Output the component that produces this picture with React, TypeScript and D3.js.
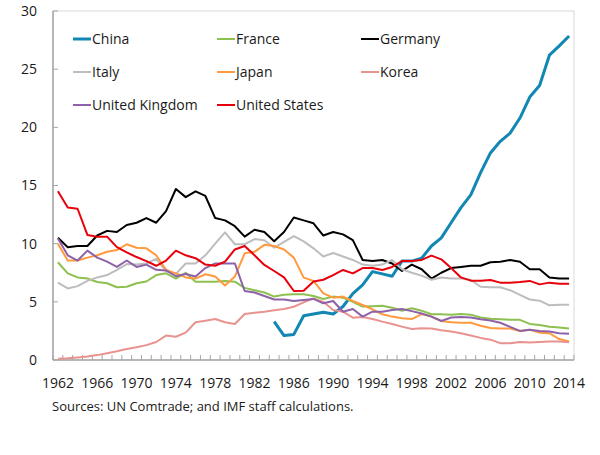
import React from "react";
import * as d3 from "d3";

const years: number[] = d3.range(1962, 2015);
const tickYears: number[] = [1962, 1966, 1970, 1974, 1978, 1982, 1986, 1990, 1994, 1998, 2002, 2006, 2010, 2014];
const yTicks: number[] = [0, 5, 10, 15, 20, 25, 30];

const china: (number | null)[] = [
  null, null, null, null, null, null, null, null, null, null, null, null, null, null, null, null, null, null, null, null, null, null,
  3.3, 2.1, 2.2, 3.8, 3.95, 4.1, 3.95, 4.6, 5.7, 6.45, 7.6, 7.4, 7.2, 8.5, 8.5, 8.75, 9.8, 10.5, 11.8, 13.1, 14.2, 16.1, 17.8, 18.8, 19.5, 20.8, 22.6, 23.6, 26.2, 27.0, 27.85,
];
const france: number[] = [
  8.4, 7.45, 7.1, 7.0, 6.7, 6.6, 6.25, 6.3, 6.6, 6.75, 7.3, 7.45, 7.0, 7.5, 6.73, 6.73, 6.73, 6.8, 6.73, 6.2, 6.0, 5.8, 5.45, 5.6, 5.65, 5.65, 5.5,
  5.24, 5.45, 5.36, 5.0, 4.6, 4.63, 4.67, 4.5, 4.24, 4.44, 4.24, 3.93, 3.93, 3.9, 3.95, 3.9, 3.65, 3.55, 3.5, 3.45, 3.45, 3.1, 3.0, 2.85, 2.8, 2.7,
];
const germany: number[] = [
  10.5, 9.7, 9.8, 9.8, 10.7, 11.1, 11.0, 11.6, 11.8, 12.2, 11.8, 12.8, 14.7, 14.0, 14.5, 14.1, 12.2, 12.0, 11.5, 10.6, 11.2, 11.0, 10.2, 11.0, 12.25, 12.0, 11.75,
  10.7, 11.0, 10.8, 10.3, 8.6, 8.5, 8.6, 8.3, 7.65, 8.2, 7.8, 7.0, 7.5, 7.9, 8.0, 8.1, 8.1, 8.4, 8.45, 8.6, 8.45, 7.8, 7.8, 7.1, 7.0, 7.0,
];
const italy: number[] = [
  6.65, 6.15, 6.35, 6.8, 7.1, 7.3, 7.75, 8.25, 8.2, 8.3, 8.7, 7.65, 7.4, 8.3, 8.3, 9.0, 10.0, 10.97, 9.95, 9.95, 10.4, 10.3, 9.65, 10.15, 10.65, 10.2, 9.6,
  8.9, 9.2, 8.9, 8.6, 8.2, 8.1, 8.2, 8.6, 7.8, 7.5, 7.25, 6.9, 7.1, 7.0, 7.0, 6.9, 6.3, 6.25, 6.25, 6.0, 5.6, 5.2, 5.1, 4.7, 4.75, 4.75,
];
const japan: number[] = [
  10.0, 8.55, 8.55, 8.8, 9.0, 9.3, 9.45, 9.95, 9.65, 9.6, 9.0, 7.75, 7.45, 7.1, 7.0, 7.37, 7.17, 6.4, 7.17, 9.17, 9.3, 9.9, 9.8, 9.5, 8.8, 7.08, 6.8,
  5.73, 5.36, 5.45, 5.07, 4.73, 4.36, 3.93, 3.73, 3.58, 3.52, 3.95, 3.73, 3.35, 3.25, 3.2, 3.2, 2.95, 2.75, 2.7, 2.7, 2.5, 2.6, 2.35, 2.3, 1.8, 1.6,
];
const korea: number[] = [
  0.1, 0.15, 0.22, 0.3, 0.42, 0.58, 0.75, 0.95, 1.1, 1.28, 1.55, 2.1, 2.0, 2.35, 3.24, 3.38, 3.53, 3.24, 3.1, 3.96, 4.07, 4.15, 4.27, 4.38, 4.58, 4.96, 5.3,
  5.0, 4.3, 4.15, 3.64, 3.7, 3.53, 3.3, 3.1, 2.87, 2.67, 2.72, 2.7, 2.55, 2.45, 2.3, 2.1, 1.9, 1.75, 1.45, 1.43, 1.55, 1.5, 1.55, 1.58, 1.58, 1.52,
];
const uk: number[] = [
  10.45, 9.0, 8.55, 9.4, 8.8, 8.45, 8.0, 8.55, 8.0, 8.2, 7.75, 7.7, 7.2, 7.4, 7.17, 7.9, 8.3, 8.3, 8.3, 5.93, 5.8, 5.5, 5.2, 5.2, 5.07, 5.16, 5.25,
  4.87, 5.07, 4.15, 4.38, 3.73, 4.15, 4.15, 4.3, 4.38, 4.2, 4.0, 3.73, 3.35, 3.65, 3.7, 3.65, 3.5, 3.4, 3.2, 2.85, 2.5, 2.6, 2.5, 2.45, 2.3, 2.25,
];
const us: number[] = [
  14.5, 13.1, 13.0, 10.75, 10.6, 10.6, 9.7, 9.25, 8.85, 8.5, 8.1, 8.55, 9.4, 9.0, 8.75, 8.2, 8.1, 8.45, 9.5, 9.8, 9.0, 8.17, 7.65, 7.1, 5.93, 5.95, 6.75,
  6.9, 7.3, 7.74, 7.45, 7.9, 7.9, 7.74, 8.0, 8.5, 8.5, 8.6, 8.97, 8.65, 7.9, 7.1, 6.82, 6.82, 6.88, 6.65, 6.65, 6.7, 6.8, 6.5, 6.65, 6.55, 6.55,
];

const seriesNames: string[] = ["China", "France", "Germany", "Italy", "Japan", "Korea", "United Kingdom", "United States"];
const seriesValues: (number | null)[][] = [china, france, germany, italy, japan, korea, uk, us];
const seriesColors: string[] = ["#1287B4", "#8DC04F", "#000000", "#BDBDBD", "#FF9A3E", "#E8938F", "#8E62A8", "#E8000B"];
const seriesWidths: number[] = [3, 2, 2, 2, 2, 2, 2, 2];

const W = 600;
const H = 455;
const left = 53;
const right = 574;
const top = 11;
const bottom = 360;
const font = "'Open Sans', 'Noto Sans', sans-serif";

export default function App() {
  const x = d3.scaleBand<number>().domain(years).range([left, right]).padding(0);
  const cx = (yr: number) => (x(yr) as number) + x.bandwidth() / 2;
  const y = d3.scaleLinear().domain([0, 30]).range([bottom, top]);

  const line = d3
    .line<number | null>()
    .defined((d) => d != null)
    .x((_, i) => cx(years[i]))
    .y((d) => y(d as number));

  const legendCols = [73, 217, 361];
  const legendRows = [39, 72, 105];

  return (
    <svg width={W} height={H} style={{ position: "absolute", left: 0, top: 0, background: "#fff" }} fontFamily={font}>
      <rect x={0} y={0} width={W} height={H} fill="#fff" />
      {/* plot border */}
      <rect x={left} y={top} width={right - left} height={bottom - top} fill="none" stroke="#D9D9D9" strokeWidth={1} />
      {/* y axis */}
      <line x1={left} x2={left} y1={top} y2={bottom} stroke="#A6A6A6" strokeWidth={1.5} />
      {yTicks.map((t) => (
        <g key={t}>
          <line x1={left} x2={left + 5} y1={y(t)} y2={y(t)} stroke="#A6A6A6" strokeWidth={1} />
          <text x={37} y={y(t)} dy="0.35em" textAnchor="end" fontSize={14} fill="#1a1a1a">
            {t}
          </text>
        </g>
      ))}
      {/* x axis */}
      <line x1={left} x2={right} y1={bottom} y2={bottom} stroke="#A6A6A6" strokeWidth={1.5} />
      {years.concat([2015]).map((yr, i) => {
        const xx = left + i * x.bandwidth();
        return <line key={yr} x1={xx} x2={xx} y1={bottom - 5} y2={bottom} stroke="#A6A6A6" strokeWidth={1} />;
      })}
      {tickYears.map((yr) => (
        <text key={yr} x={cx(yr)} y={383} dy="0.35em" textAnchor="middle" fontSize={14} fill="#1a1a1a">
          {yr}
        </text>
      ))}
      {/* series */}
      {seriesValues.map((vals, i) => (
        <path
          key={seriesNames[i]}
          d={line(vals) || ""}
          fill="none"
          stroke={seriesColors[i]}
          strokeWidth={seriesWidths[i]}
          strokeLinejoin="round"
        />
      ))}
      {/* legend */}
      {seriesNames.map((name, i) => {
        const lx = legendCols[i % 3];
        const ly = legendRows[Math.floor(i / 3)];
        return (
          <g key={name}>
            <line x1={lx} x2={lx + 18} y1={ly} y2={ly} stroke={seriesColors[i]} strokeWidth={seriesWidths[i]} />
            <text x={lx + 19} y={ly} dy="0.35em" fontSize={14} fill="#1a1a1a">
              {name}
            </text>
          </g>
        );
      })}
      <text x={52} y={406} dy="0.35em" fontSize={13} fill="#1a1a1a">
        Sources: UN Comtrade; and IMF staff calculations.
      </text>
    </svg>
  );
}
